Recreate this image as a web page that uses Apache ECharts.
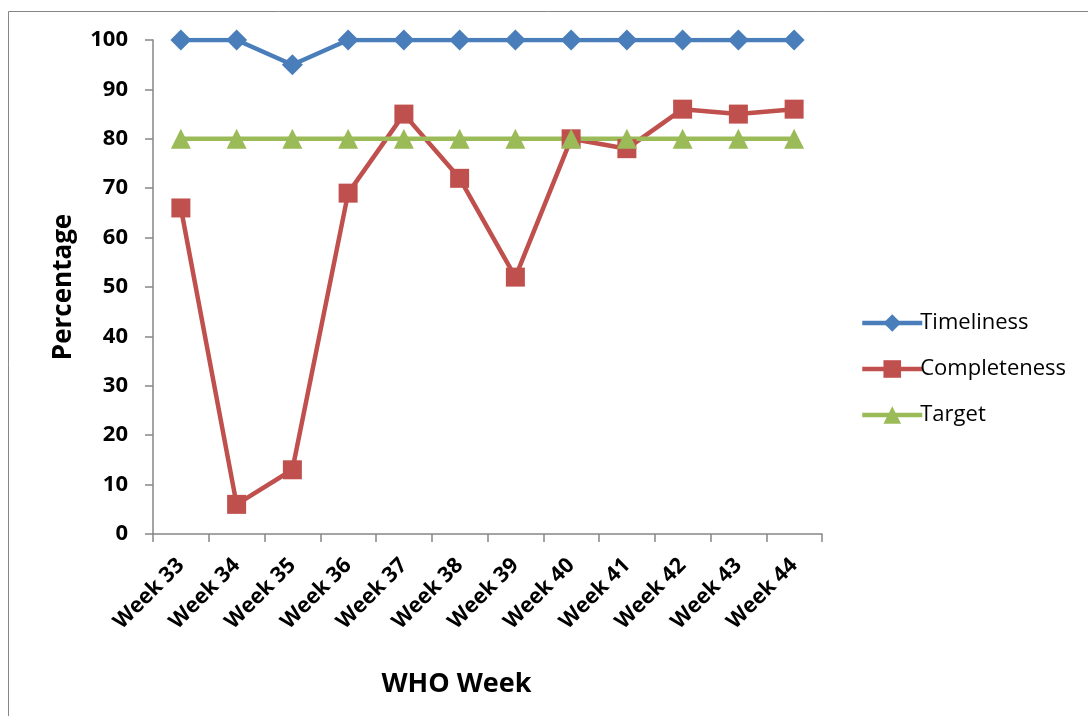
<!DOCTYPE html>
<html>
<head>
<meta charset="utf-8">
<script src="https://cdn.jsdelivr.net/npm/echarts@6/dist/echarts.min.js"></script>
<style>
  html, body { margin: 0; padding: 0; background: #fff; }
  #chart { width: 1088px; height: 716px; }
</style>
</head>
<body>
<div id="chart"></div>
<script>
// Weekly surveillance reporting performance
const weeks = ['Week 33', 'Week 34', 'Week 35', 'Week 36', 'Week 37', 'Week 38',
               'Week 39', 'Week 40', 'Week 41', 'Week 42', 'Week 43', 'Week 44'];
const timeliness = [100, 100, 95, 100, 100, 100, 100, 100, 100, 100, 100, 100];
const completeness = [66, 6, 13, 69, 85, 72, 52, 80, 78, 86, 85, 86];
const target = [80, 80, 80, 80, 80, 80, 80, 80, 80, 80, 80, 80];

const FONT = '"Open Sans", Lato, sans-serif';
const AXIS_GREY = '#868686';

const chart = echarts.init(document.getElementById('chart'), null, { renderer: 'canvas' });

function lineSeries(name, data, color, symbol, size) {
  return {
    name: name,
    type: 'line',
    data: data,
    symbol: symbol,
    symbolSize: size,
    showAllSymbol: true,
    lineStyle: { color: color, width: 4.5 },
    itemStyle: { color: color },
    emphasis: { disabled: true },
    animation: false
  };
}

chart.setOption({
  backgroundColor: '#fff',
  animation: false,
  graphic: [{
    type: 'rect',
    shape: { x: 8.5, y: 11.5, width: 1200, height: 800 },
    style: { fill: 'none', stroke: AXIS_GREY, lineWidth: 1 },
    silent: true
  }],
  grid: { left: 153, right: 266, top: 40, bottom: 182, containLabel: false },
  legend: {
    orient: 'vertical',
    left: 855,
    top: 307,
    itemGap: 24,
    itemWidth: 60,
    itemHeight: 22,
    lineStyle: { width: 4.5 },
    textStyle: { fontFamily: FONT, fontSize: 22, color: '#000', padding: [0, 0, 0, -7] },
    data: ['Timeliness', 'Completeness', 'Target']
  },
  xAxis: {
    type: 'category',
    data: weeks,
    boundaryGap: true,
    name: 'WHO Week',
    nameLocation: 'middle',
    nameGap: 137,
    nameTextStyle: {
      fontFamily: FONT, fontSize: 27, fontWeight: 'bold', color: '#000',
      padding: [0, 62, 0, 0]
    },
    axisLine: { lineStyle: { color: AXIS_GREY, width: 1.5 } },
    axisTick: { show: true, alignWithLabel: false, length: 8, lineStyle: { color: AXIS_GREY, width: 1.5 } },
    axisLabel: {
      rotate: 45,
      margin: 28,
      fontFamily: FONT,
      fontSize: 21.5,
      fontWeight: 'bold',
      color: '#000',
      interval: 0
    },
    splitLine: { show: false }
  },
  yAxis: {
    type: 'value',
    min: 0,
    max: 100,
    interval: 10,
    name: 'Percentage',
    nameLocation: 'middle',
    nameGap: 76,
    nameRotate: 90,
    nameTextStyle: { fontFamily: FONT, fontSize: 26, fontWeight: 'bold', color: '#000' },
    axisLine: { show: true, lineStyle: { color: AXIS_GREY, width: 1.5 } },
    axisTick: { show: true, length: 8, lineStyle: { color: AXIS_GREY, width: 1.5 } },
    axisLabel: {
      margin: 25,
      fontFamily: FONT,
      fontSize: 22,
      fontWeight: 'bold',
      color: '#000'
    },
    splitLine: { show: false }
  },
  series: [
    lineSeries('Timeliness', timeliness, '#4a7ebb', 'diamond', 21),
    lineSeries('Completeness', completeness, '#c0504d', 'rect', 19),
    lineSeries('Target', target, '#9bbb59', 'triangle', 20)
  ]
});
</script>
</body>
</html>
